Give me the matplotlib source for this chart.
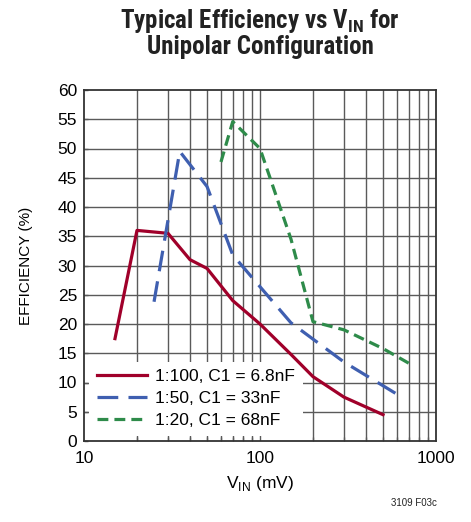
import matplotlib
matplotlib.use("Agg")
import matplotlib.pyplot as plt
from matplotlib.ticker import NullFormatter, FixedLocator

plt.rcParams['font.family'] = ['Liberation Sans', 'DejaVu Sans']

# Data
x_red = [15, 20, 30, 40, 50, 70, 100, 150, 200, 300, 500]
y_red = [17.5, 36, 35.5, 31, 29.5, 24, 20, 14.8, 11, 7.5, 4.5]
x_blue = [25, 35, 50, 70, 150, 300, 600]
y_blue = [23.8, 49.5, 43.5, 31.8, 20.2, 13.5, 8]
x_green = [60, 70, 100, 150, 200, 300, 500, 700]
y_green = [47.7, 54.6, 50, 34.5, 20.4, 19, 15.8, 13.3]
labels = ["1:100, C1 = 6.8nF", "1:50, C1 = 33nF", "1:20, C1 = 68nF"]
x_ticks = [10, 100, 1000]
y_ticks = list(range(0, 61, 5))

fig = plt.figure(figsize=(4.71, 5.22), dpi=100)
ax = fig.add_axes([84/471, 1-441/522, 352/471, 351/522])
ax.set_xscale('log')
ax.set_xlim(10, 1000)
ax.set_ylim(0, 60)

gridc = '#5a5a5a'
minor = [m * d for d in (10, 100) for m in range(2, 10)]
for xv in minor + [100]:
    ax.axvline(xv, color=gridc, lw=1.0, zorder=1)
for yv in y_ticks[1:-1]:
    ax.axhline(yv, color=gridc, lw=1.0, zorder=1)

ax.plot(x_red, y_red, color='#a0002a', lw=2.3, zorder=3, label=labels[0])
ax.plot(x_blue, y_blue, color='#3f5fb0', lw=2.3, zorder=3, dashes=(6.5, 3.2), label=labels[1])
ax.plot(x_green, y_green, color='#2e8b4a', lw=2.3, zorder=3, dashes=(3.4, 1.9), label=labels[2])

ax.xaxis.set_major_locator(FixedLocator(x_ticks))
ax.xaxis.set_minor_locator(FixedLocator(minor))
ax.xaxis.set_minor_formatter(NullFormatter())
ax.set_xticklabels([str(v) for v in x_ticks])
ax.set_yticks(y_ticks)
ax.tick_params(axis='both', which='both', direction='in', length=3, width=1.0,
               color=gridc, labelsize=12.5, pad=5)
ax.tick_params(axis='x', which='major', length=0, pad=7)
ax.tick_params(axis='y', which='major', length=3)
for s in ax.spines.values():
    s.set_color('#333333')
    s.set_linewidth(1.3)
    s.set_zorder(4)

leg = ax.legend(loc='lower left', bbox_to_anchor=(0.0, 0.0), frameon=True,
                fontsize=12.5, handlelength=2.9, handletextpad=0.45,
                labelspacing=0.38, borderpad=0.45, borderaxespad=0.3, fancybox=False)
leg.get_frame().set_facecolor('white')
leg.get_frame().set_edgecolor('none')
leg.get_frame().set_alpha(1)
leg.set_zorder(2)

ax.set_ylabel('EFFICIENCY (%)', fontsize=11, labelpad=18)
ax.set_xlabel(r'V$_{\mathregular{IN}}$ (mV)', fontsize=12.5, labelpad=6)

title_font = dict(ha='center', va='baseline', fontsize=18, fontweight='bold', color='#222222',
                  family=['Roboto Condensed', 'DejaVu Sans'], fontstretch='condensed')
fig.text(260/471, 1-28/522, 'Typical Efficiency vs V$_{\\mathregular{IN}}$ for', **title_font)
fig.text(260/471, 1-54/522, 'Unipolar Configuration', **title_font)
fig.text(437/471, 1-503/522, '3109 F03c', ha='right', va='center', fontsize=7, color='#222222')

fig.savefig('out.png', dpi=100)
